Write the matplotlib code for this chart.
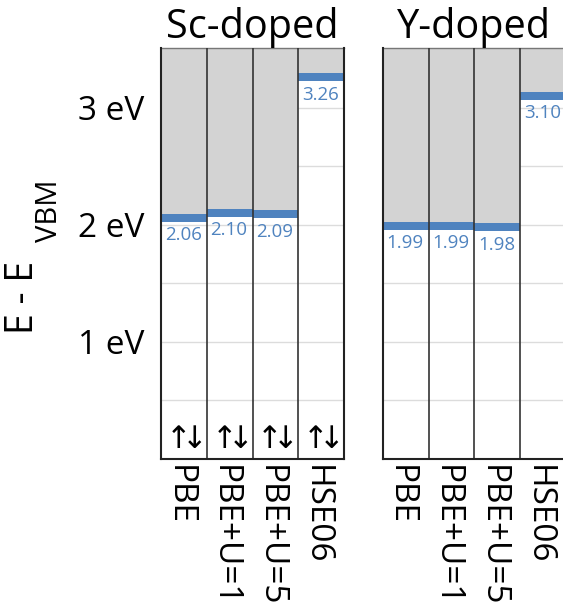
import numpy as np
import matplotlib
matplotlib.use('Agg')
import matplotlib.pyplot as plt
import matplotlib.transforms as mtransforms

plt.rcParams['font.family'] = ['Open Sans', 'DejaVu Sans']

methods = ['PBE', 'PBE+U=1', 'PBE+U=5', 'HSE06']
sc_vals = [2.06, 2.10, 2.09, 3.26]
y_vals = [1.99, 1.99, 1.98, 3.10]
panels = ['Sc-doped', 'Y-doped']
yticks = [1, 2, 3]
ytick_labels = ['1 eV', '2 eV', '3 eV']

gray = '#d3d3d3'
blue = '#4f83bf'
ytop = 3.51

fig = plt.figure(figsize=(5.63, 6.13), dpi=100)
ax1 = fig.add_axes([0.286, 0.2512, 0.325, 0.6705])
ax2 = fig.add_axes([0.680, 0.2512, 0.325, 0.6705])

# move the rotated method names a bit left and down from the axis
shift = mtransforms.ScaledTranslation(-5 / 100, -6 / 100, fig.dpi_scale_trans)

for ax, vals, name in zip([ax1, ax2], [sc_vals, y_vals], panels):
    x = np.arange(len(methods))
    ax.set_xlim(-0.5, len(methods) - 0.5)
    ax.set_ylim(0, ytop)
    for yy in np.arange(0.5, ytop, 0.5):
        ax.axhline(yy, color='#dcdcdc', lw=1.0, zorder=0)
    ax.bar(x, [ytop - v for v in vals], bottom=vals, width=1.0, color=gray, zorder=1)
    ax.bar(x, 0.065, bottom=[v - 0.0325 for v in vals], width=1.0, color=blue, zorder=2)
    for xi, v in zip(x, vals):
        ax.annotate('%.2f' % v, (xi - 0.42, v), xytext=(0, -12.5), textcoords='offset points',
                    ha='left', va='center', color=blue, fontsize=13.5, zorder=3)
    for xs in [0.5, 1.5, 2.5]:
        ax.axvline(xs, color='#333333', lw=1.2, zorder=3)
    for s in ['left', 'right', 'bottom']:
        ax.spines[s].set_linewidth(1.5)
        ax.spines[s].set_color('#222222')
        ax.spines[s].set_zorder(4)
    ax.spines['top'].set_color('#777777')
    ax.spines['top'].set_linewidth(1.0)
    ax.set_xticks([])
    for xi, m in zip(x, methods):
        ax.text(xi, 0, m, rotation=270, fontsize=24, va='top', ha='center',
                transform=ax.get_xaxis_transform() + shift, clip_on=False)
    ax.set_title(name, fontsize=28.5, pad=2)

ax1.set_yticks(yticks)
ax1.set_yticklabels(ytick_labels, fontsize=24)
ax1.tick_params(axis='y', length=0, pad=12)
ax2.set_yticks([])

# spin pair markers in the Sc-doped columns
for xi in range(len(methods)):
    ax1.text(xi - 0.12, 0.165, '\u2191', ha='center', va='center', fontsize=22,
             family=['DejaVu Sans'], zorder=5)
    ax1.text(xi + 0.23, 0.165, '\u2193', ha='center', va='center', fontsize=22,
             family=['DejaVu Sans'], zorder=5)

fig.text(0.040, 0.515, 'E - E', rotation=90, ha='center', va='center', fontsize=27)
fig.text(0.088, 0.657, 'VBM', rotation=90, ha='center', va='center', fontsize=21)

fig.savefig('out.png', dpi=100)
